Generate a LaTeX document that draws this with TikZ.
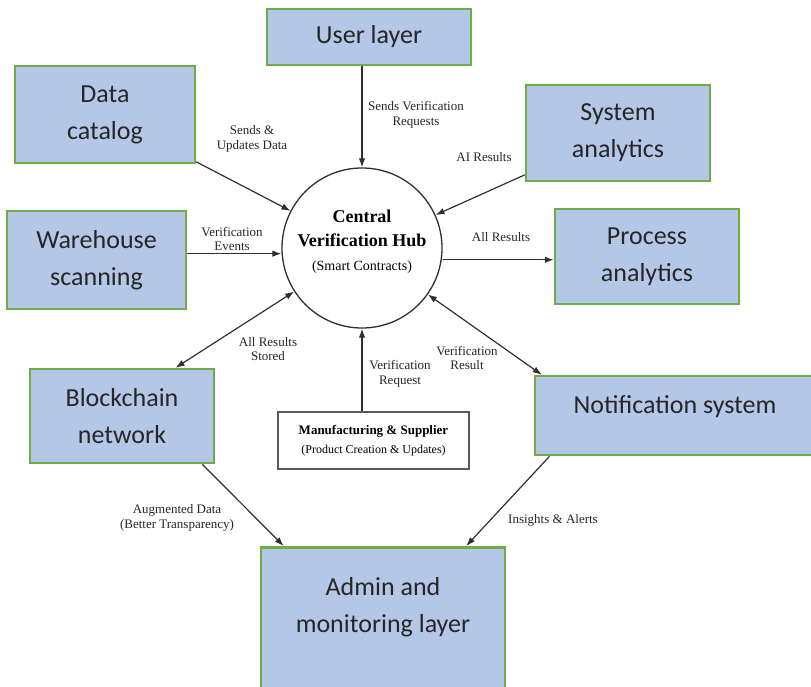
\documentclass[tikz,border=0pt]{standalone}
\usepackage{fontspec}
\setmainfont{Liberation Serif}
\newfontfamily\boxfamily{Carlito}
\usetikzlibrary{arrows.meta}
\definecolor{boxBlue}{HTML}{B4C7E7}
\definecolor{boxGreen}{HTML}{70AD47}
\definecolor{lineGray}{HTML}{303030}
\definecolor{textGray}{HTML}{262626}
\begin{document}
\begin{tikzpicture}
[x=1pt,y=-1pt,
  boxDecorate/.style={shape=rectangle,draw=boxGreen,fill=boxBlue,line width=2.5pt,
    align=center,text=textGray,font=\boxfamily\fontsize{26}{37}\selectfont},
  hubDecorate/.style={shape=circle,draw=lineGray,line width=1.3pt,minimum size=160pt,
    inner sep=0pt,align=center,font=\fontsize{18}{24}\selectfont},
  mfgDecorate/.style={shape=rectangle,draw=lineGray!80,line width=1.3pt,fill=white,
    minimum width=191pt,minimum height=57pt,align=center,font=\fontsize{13}{19}\selectfont},
  lineDecorate/.style={-{Latex[length=9pt,width=6.5pt]},line width=1.2pt,draw=lineGray},
  bothDecorate/.style={{Latex[length=9pt,width=6.5pt]}-{Latex[length=9pt,width=6.5pt]},
    line width=1.2pt,draw=lineGray},
  labelDecorate/.style={align=center,text=textGray,font=\fontsize{13}{14.5}\selectfont}]
\useasboundingbox (0,0) rectangle (811,687);
\clip (0,0) rectangle (811,687);
%% layer boxes
\foreach \nodename/\x/\y/\w/\h/\txt in {
  user/369/37/204/56/{User layer},
  data/105/114.5/180/97/{Data\\catalog},
  system/618/133/184/96/{System\\analytics},
  warehouse/96.5/260/179/98/{Warehouse\\scanning},
  process/647/256.5/184/95/{Process\\analytics},
  blockchain/122/416/184/94/{Blockchain\\network}}
{
  \node (\nodename) at (\x,\y) [boxDecorate,minimum width=\w,minimum height=\h] {\txt};
}
\node (notification) at (675,415.5) [boxDecorate,minimum width=280,minimum height=79,
  text depth=22pt] {Notification system};
\node (admin) at (383,546) [boxDecorate,anchor=north,minimum width=244,
  text height=82pt,text depth=64pt] {Admin and\\monitoring layer};
%% hub and supplier
\node (hub) at (362,248) [hubDecorate,text depth=16pt]
  {\bfseries Central\\\bfseries Verification Hub\\\fontsize{14}{21}\selectfont(Smart Contracts)};
\node (manufacturing) at (373.5,440.5) [mfgDecorate]
  {\bfseries Manufacturing \& Supplier\\\fontsize{12}{19}\selectfont(Product Creation \& Updates)};
%% connectors
\path
\foreach \startnode/\endnode/\kind in {
  {user.south -| hub.north}/hub.north/lineDecorate,
  data/hub/lineDecorate,
  system/hub/lineDecorate,
  warehouse.4/{warehouse.4 -| hub.west}/lineDecorate,
  {hub.east |- process.182}/process.182/lineDecorate,
  blockchain.42/hub/bothDecorate,
  {manufacturing.north -| hub.south}/hub.south/lineDecorate,
  notification.163/hub/bothDecorate,
  blockchain.-31/admin.142/lineDecorate,
  notification.198/admin.43/lineDecorate}
{
  (\startnode) edge[\kind] (\endnode)
};
%% connector labels
\foreach \nodename/\x/\y/\txt in {
  sendsRequests/416/115/{Sends Verification\\Requests},
  sendsData/252/139/{Sends \&\\Updates Data},
  aiResults/484/157/{AI Results},
  scanEvents/232/239/{Verification\\Events},
  allResults/501/237/{All Results},
  resultsStored/268/349/{All Results\\Stored},
  verifRequest/400/374/{Verification\\Request},
  verifResult/467/358/{Verification\\Result},
  augmentedData/177/518/{Augmented Data\\(Better Transparency)},
  insightsAlerts/553/520/{Insights \& Alerts}}
{
  \node (\nodename) at (\x,\y) [labelDecorate] {\txt};
}
\end{tikzpicture}
\end{document}
